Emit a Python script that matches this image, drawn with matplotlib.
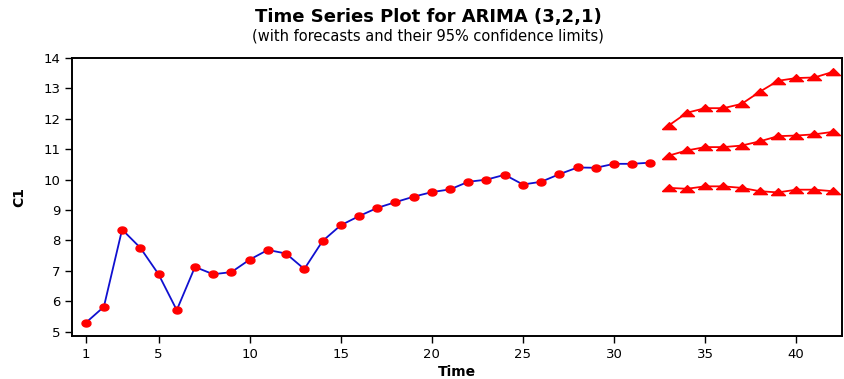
import matplotlib
matplotlib.use('Agg')
import matplotlib.pyplot as plt
import numpy as np

# observed series C1 (time 1..32)
time_obs = list(range(1, 33))
c1 = [5.29, 5.82, 8.36, 7.76, 6.89, 5.71, 7.13, 6.89, 6.96, 7.37,
      7.69, 7.57, 7.06, 7.98, 8.50, 8.80, 9.07, 9.26, 9.44, 9.59,
      9.68, 9.93, 10.00, 10.16, 9.84, 9.93, 10.18, 10.40, 10.39, 10.52,
      10.52, 10.56]

# forecasts and 95% limits (time 33..42)
time_fc = list(range(33, 43))
upper = [11.78, 12.20, 12.35, 12.35, 12.49, 12.89, 13.25, 13.34, 13.36, 13.54]
forecast = [10.79, 10.96, 11.07, 11.07, 11.12, 11.26, 11.43, 11.45, 11.49, 11.57]
lower = [9.73, 9.70, 9.78, 9.78, 9.73, 9.62, 9.58, 9.67, 9.67, 9.62]

xticks = [1, 5, 10, 15, 20, 25, 30, 35, 40]
yticks = [5, 6, 7, 8, 9, 10, 11, 12, 13, 14]

# flattened marker shapes, like the original
t = np.linspace(0, 2 * np.pi, 25)
oval = np.column_stack([np.cos(t), 0.78 * np.sin(t)])
flat_tri = [(-1, -0.45), (1, -0.45), (0, 0.55), (-1, -0.45)]

fig = plt.figure(figsize=(8.45, 3.79), dpi=100)
ax = fig.add_axes([0.0852, 0.1135, 0.911, 0.7335])

ax.plot(time_obs, c1, color='#1010d0', lw=1.3, zorder=2)
ax.plot(time_obs, c1, ls='none', marker=oval, color='red', ms=6.5, mec='red', zorder=3)

for series in (upper, forecast, lower):
    ax.plot(time_fc, series, color='red', lw=1.3, zorder=2)
    ax.plot(time_fc, series, ls='none', marker=flat_tri, color='red', ms=10, mec='red', zorder=3)

ax.set_xlim(0.25, 42.5)
ax.set_ylim(4.86, 14.0)
ax.set_xticks(xticks)
ax.set_yticks(yticks)
ax.tick_params(direction='out', length=5, width=1.0, labelsize=9.5, colors='black')
for s in ax.spines.values():
    s.set_linewidth(1.4)

ax.set_xlabel('Time', fontsize=10, fontweight='bold', labelpad=3)
ax.set_ylabel('C1', fontsize=10, fontweight='bold', labelpad=12)

fig.text(0.507, 0.955, 'Time Series Plot for ARIMA (3,2,1)', ha='center', va='center',
         fontsize=13, fontweight='bold')
fig.text(0.507, 0.905, '(with forecasts and their 95% confidence limits)', ha='center',
         va='center', fontsize=10.5)

fig.savefig('out.png', dpi=100)
